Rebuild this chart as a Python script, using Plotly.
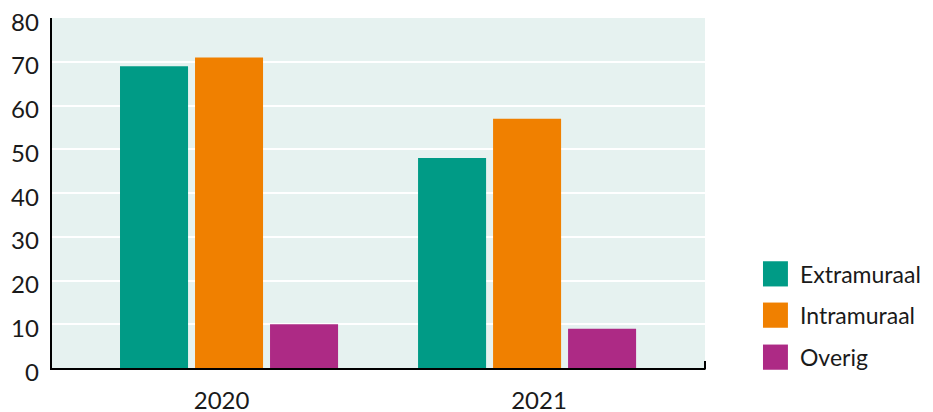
import plotly.graph_objects as go

years = ["2020", "2021"]
series_names = ["Extramuraal", "Intramuraal", "Overig"]
extramuraal = [69, 48]
intramuraal = [71, 57]
overig = [10, 9]
y_ticks = [0, 10, 20, 30, 40, 50, 60, 70, 80]

colors = ["#009B86", "#F08000", "#AD2A85"]
values = [extramuraal, intramuraal, overig]
FONT = "Lato"

fig = go.Figure()
xpos = list(range(len(years)))
for name, vals, col in zip(series_names, values, colors):
    fig.add_trace(go.Bar(x=xpos, y=vals, name=name, marker=dict(color=col, line=dict(width=0)),
                         showlegend=False))

# y tick labels (slightly below their gridlines, as in the reference)
for t in y_ticks:
    fig.add_annotation(x=-0.0165, xref="paper", y=t, yref="y", text=str(t),
                       showarrow=False, xanchor="right", yanchor="middle", yshift=-3,
                       font=dict(family=FONT, size=24, color="#1a1a1a"))

# manual legend (large square swatches)
leg_y = [0.269, 0.151, 0.031]
for name, col, yy in zip(series_names, colors, leg_y):
    fig.add_shape(type="rect", xref="paper", yref="paper",
                  x0=1.0888, x1=1.127, y0=yy - 0.036, y1=yy + 0.036,
                  fillcolor=col, line=dict(width=0))
    fig.add_annotation(x=1.143, y=yy, xref="paper", yref="paper", text=name,
                       showarrow=False, xanchor="left", yanchor="middle",
                       font=dict(family=FONT, size=23, color="#1a1a1a"))

# right-end tick of x-axis
fig.add_shape(type="line", xref="paper", yref="paper", x0=1.0, x1=1.0, y0=-0.004, y1=0.02,
              line=dict(color="black", width=2))

fig.update_layout(
    width=933, height=412,
    margin=dict(l=44, r=236, t=10, b=52),
    paper_bgcolor="white", plot_bgcolor="#E6F2F0",
    barmode="group", bargap=0.245, bargroupgap=0.093,
    font=dict(family=FONT, size=24, color="#1a1a1a"),
    xaxis=dict(range=[-0.594, 1.597], tickvals=[-0.025, 1.04], ticktext=years,
               showgrid=False, zeroline=False, showline=True, linecolor="black", linewidth=2,
               ticks="", tickfont=dict(size=24), automargin=False, ticklabelstandoff=10,
               ticklabeloverflow="allow"),
    yaxis=dict(range=[0, 80], tickvals=y_ticks, showticklabels=False, showgrid=True,
               gridcolor="white", gridwidth=1.5,
               zeroline=False, showline=True, linecolor="black", linewidth=2, ticks="",
               automargin=False),
)

fig.write_html("out.html")
